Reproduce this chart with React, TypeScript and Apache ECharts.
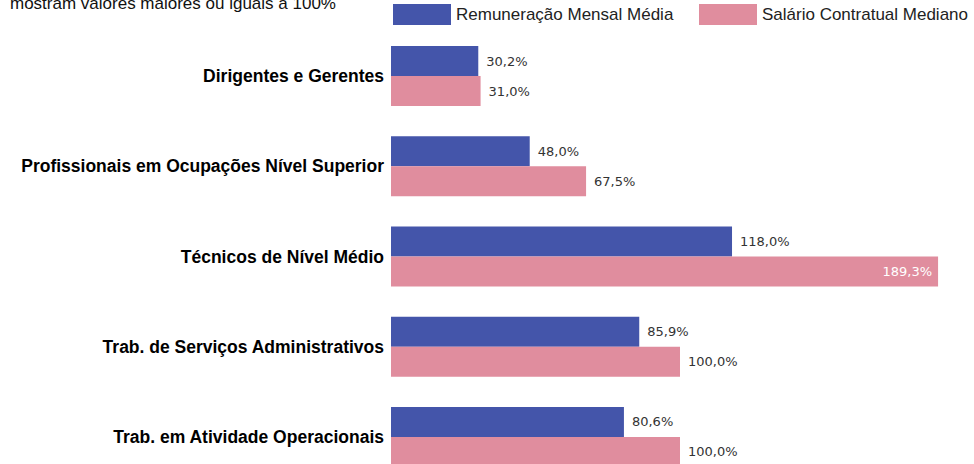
import React, { useEffect, useRef } from "react";
import * as echarts from "echarts";

const categories = [
  "Dirigentes e Gerentes",
  "Profissionais em Ocupações Nível Superior",
  "Técnicos de Nível Médio",
  "Trab. de Serviços Administrativos",
  "Trab. em Atividade Operacionais",
];
const seriesNames = ["Remuneração Mensal Média", "Salário Contratual Mediano"];
const remuneracao = [30.2, 48.0, 118.0, 85.9, 80.6];
const salario = [31.0, 67.5, 189.3, 100.0, 100.0];
const noteText = "mostram valores maiores ou iguais a 100%";

const fmt = (v: number) => v.toFixed(1).replace(".", ",") + "%";

export default function App() {
  const ref = useRef<HTMLDivElement>(null);
  useEffect(() => {
    if (!ref.current) return;
    const chart = echarts.init(ref.current, undefined, { renderer: "svg" });
    const valueLabel = {
      show: true,
      position: "right",
      distance: 8,
      fontFamily: "DejaVu Sans",
      fontSize: 13,
      color: "#333",
      formatter: (p: any) => fmt(p.value),
    };
    const legendBase = {
      top: 4,
      padding: 0,
      itemWidth: 58,
      itemHeight: 21,
      icon: "rect",
      textStyle: {
        fontFamily: "Liberation Sans, Arial",
        fontSize: 17,
        color: "#222",
        padding: [0, 0, 0, 0],
      },
    };
    chart.setOption({
      animation: false,
      backgroundColor: "#fff",
      graphic: [
        {
          type: "text",
          left: 10,
          top: -5,
          style: {
            text: noteText,
            fontFamily: "Liberation Sans, Arial",
            fontSize: 17,
            fill: "#111",
          },
        },
      ],
      legend: [
        { ...legendBase, left: 393, data: [seriesNames[0]] },
        { ...legendBase, left: 699, data: [seriesNames[1]] },
      ],
      grid: {
        left: 391,
        top: 31,
        width: 578,
        height: 451,
        containLabel: false,
        outerBoundsMode: "none",
      },
      xAxis: {
        type: "value",
        min: 0,
        max: 200,
        show: false,
      },
      yAxis: {
        type: "category",
        data: categories,
        inverse: true,
        axisLine: { show: false },
        axisTick: { show: false },
        axisLabel: {
          margin: 7,
          fontFamily: "Liberation Sans, Arial",
          fontWeight: "bold",
          fontSize: 17.5,
          color: "#000",
        },
      },
      series: [
        {
          name: seriesNames[0],
          type: "bar",
          data: remuneracao,
          barWidth: 30,
          barGap: "0%",
          itemStyle: { color: "#4455AA" },
          label: valueLabel,
        },
        {
          name: seriesNames[1],
          type: "bar",
          data: salario.map((v) =>
            v > 150
              ? {
                  value: v,
                  label: { position: "insideRight", distance: 6, color: "#fff" },
                }
              : v
          ),
          barWidth: 30,
          barGap: "0%",
          itemStyle: { color: "#E08D9E" },
          label: valueLabel,
        },
      ],
    });
    return () => chart.dispose();
  }, []);
  return (
    <div
      ref={ref}
      style={{ position: "fixed", left: 0, top: 0, width: 974, height: 464 }}
    />
  );
}
